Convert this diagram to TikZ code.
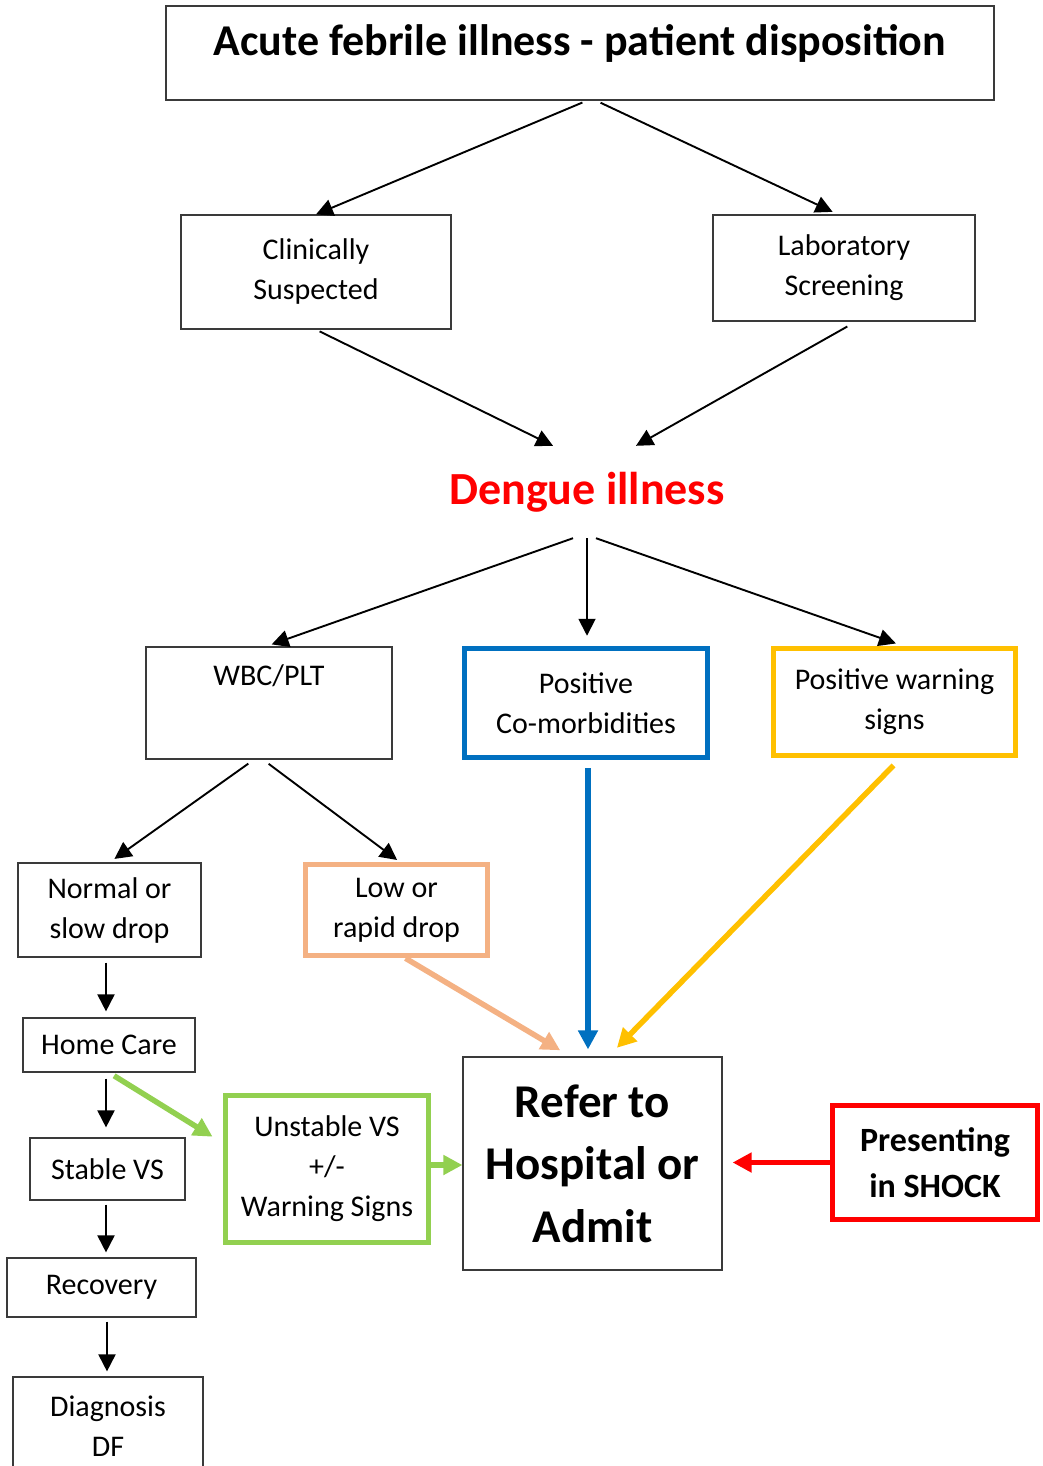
\documentclass[tikz,border=0pt]{standalone}
\usepackage{fontspec}
\setmainfont{Carlito}
\usepackage{xcolor}
\usetikzlibrary{positioning,arrows.meta}
\definecolor{dGrey}{HTML}{3A3A3A}
\definecolor{dBlue}{HTML}{0070C0}
\definecolor{dYellow}{HTML}{FFC000}
\definecolor{dOrange}{HTML}{F4B183}
\definecolor{dGreen}{HTML}{92D050}
\definecolor{dRed}{HTML}{FF0000}

\begin{document}
\begin{tikzpicture}[x=1pt, y=-1pt,
  box/.style={draw=dGrey, line width=1.2pt, inner sep=0pt, align=center, font=\fontsize{30}{40}\selectfont},
  cbox/.style={box, line width=5.5pt},
  arr/.style={-{Triangle[length=17pt,width=17pt]}, line width=1.9pt},
  carr/.style={-{Triangle[length=19pt,width=19pt]}, line width=5.5pt}]
\useasboundingbox (0,0) rectangle (1043,1466);
\clip (0,0) rectangle (1043,1466);

% top of the chart
\node[box, minimum width=828pt, text height=50pt, text depth=44pt, font=\bfseries\fontsize{44}{53}\selectfont] (title) at (580,53) {Acute febrile illness - patient disposition};
\node[box, minimum width=270pt, minimum height=114pt] (clin) at (316,272) {Clinically\\Suspected};
\node[box, minimum width=262pt, minimum height=106pt] (lab) at (844,268) {Laboratory\\Screening};
\node[inner sep=0pt, minimum width=300pt, minimum height=92pt, text=dRed, font=\bfseries\fontsize{46}{55}\selectfont] (deng) at (587,492) {Dengue illness};

% second level
\node[box, minimum width=246pt, text height=38pt, text depth=74pt] (wbc) at (269,703) {WBC/PLT};
\node[cbox, draw=dBlue, minimum width=243pt, minimum height=109pt] (comorb) at (586,703) {Positive\\Co-morbidities};
\node[cbox, draw=dYellow, minimum width=242pt, minimum height=107pt] (warn) at (894.5,702) {Positive warning\\signs};

% left column
\node[box, minimum width=183pt, minimum height=94pt] (normal) at (109.5,910) {Normal or\\slow drop};
\node[cbox, draw=dOrange, minimum width=182pt, minimum height=91pt] (low) at (396.5,910) {Low or\\rapid drop};
\node[box, minimum width=172pt, minimum height=54pt] (home) at (109,1045) {Home Care};
\node[box, minimum width=155pt, minimum height=62pt] (stable) at (107.5,1169) {Stable VS};
\node[box, minimum width=189pt, minimum height=59pt] (recovery) at (101.5,1287.5) {Recovery};
\node[box, minimum width=190pt, minimum height=98pt] (diag) at (108,1426) {Diagnosis\\DF};

% admission
\node[cbox, draw=dGreen, minimum width=203pt, minimum height=147pt] (unstable) at (327,1169) {Unstable VS\\+/-\\Warning Signs};
\node[box, minimum width=259pt, minimum height=213pt, font=\bfseries\fontsize{47}{62.5}\selectfont] (refer) at (592.5,1163.5) {Refer to\\Hospital or\\Admit};
\node[cbox, draw=dRed, minimum width=205pt, minimum height=114pt, font=\bfseries\fontsize{34}{46}\selectfont] (shock) at (935,1162.5) {Presenting\\in SHOCK};

% black connectors
\draw[arr, shorten <=5pt] ([xshift=7pt]title.south) -- (clin.north);
\draw[arr, shorten <=5pt, shorten >=6pt] ([xshift=16pt]title.south) -- ([xshift=-6pt]lab.north);
\draw[arr, shorten <=4pt] (clin.south) -- ([xshift=-34pt]deng.north);
\draw[arr, shorten <=10pt] ([xshift=12pt]lab.south) -- ([xshift=49pt]deng.north);
\draw[arr, shorten >=6pt] ([xshift=-14pt]deng.south) -- ([xshift=-3pt]wbc.north);
\draw[arr, shorten >=10pt] (deng.south) -- (deng.south |- comorb.north);
\draw[arr, shorten >=7pt] ([xshift=9pt]deng.south) -- ([xshift=8pt]warn.north);
\draw[arr, shorten <=7pt, shorten >=6pt] ([xshift=-15pt]wbc.south) -- (normal.north);
\draw[arr, shorten <=7pt, shorten >=3pt] ([xshift=-6pt]wbc.south) -- ([xshift=3pt]low.north);
\draw[arr, shorten <=5pt, shorten >=6pt] ([xshift=-3.5pt]normal.south) -- ([xshift=-3.5pt]normal.south |- home.north);
\draw[arr, shorten <=6pt, shorten >=10pt] ([xshift=-3pt]home.south) -- ([xshift=-3pt]home.south |- stable.north);
\draw[arr, shorten <=4pt, shorten >=5pt] ([xshift=-1.5pt]stable.south) -- ([xshift=-1.5pt]stable.south |- recovery.north);
\draw[arr, shorten <=4pt, shorten >=5pt] ([xshift=5.5pt]recovery.south) -- ([xshift=5.5pt]recovery.south |- diag.north);

% coloured connectors
\draw[carr, dGreen, shorten <=6pt, shorten >=12pt] (home.south) -- ([yshift=26pt]unstable.west);
\draw[carr, dGreen] ([yshift=4pt]unstable.east) -- ([yshift=4pt]unstable.east -| refer.west);
\draw[carr, dOrange, shorten >=12pt] ([xshift=9pt]low.south) -- ([xshift=-22pt]refer.north);
\draw[carr, dBlue, shorten <=8pt, shorten >=7pt] ([xshift=2pt]comorb.south) -- ([xshift=2pt]comorb.south |- refer.north);
\draw[carr, dYellow, shorten <=10pt, shorten >=12pt] ([xshift=6pt]warn.south) -- ([xshift=16pt]refer.north);
\draw[carr, dRed, shorten >=10pt] (shock.west) -- (shock.west -| refer.east);
\end{tikzpicture}
\end{document}
